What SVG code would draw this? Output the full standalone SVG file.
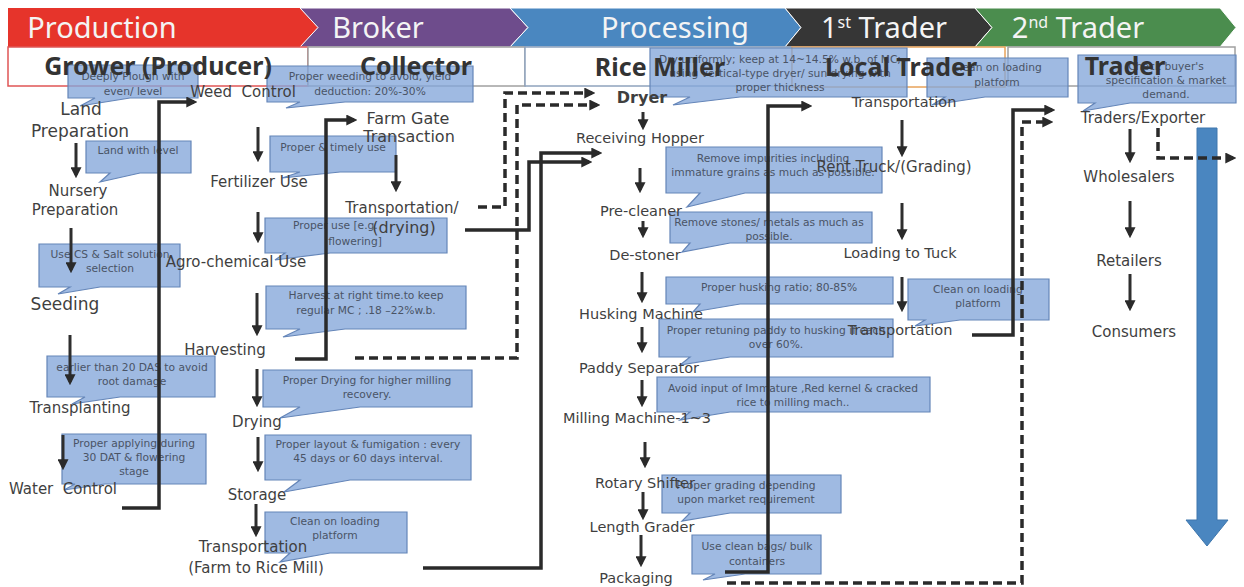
<svg xmlns="http://www.w3.org/2000/svg" width="1244" height="587" viewBox="0 0 1244 587">
  <style>
    .band text { fill: #f4f4f4; font-family: "Noto Sans", "DejaVu Sans", sans-serif; font-size: 29px; text-anchor: middle; }
    .frame rect { fill: #ffffff; stroke-width: 1.5; }
    .role text { fill: #333333; font-family: "Noto Sans", "DejaVu Sans", sans-serif; font-size: 25px; font-weight: bold; text-anchor: middle; }
    .lbl { fill: #3f3f3f; font-family: "DejaVu Sans", Verdana, sans-serif; font-size: 15px; text-anchor: middle; }
    .note path { fill: #84a6da; fill-opacity: 0.78; stroke: #6485b8; stroke-width: 1.2; }
    .note text { fill: #4a5466; font-family: "DejaVu Sans", Verdana, sans-serif; font-size: 10.7px; text-anchor: middle; }
    .step { stroke: #2e2e2e; stroke-width: 3; fill: none; marker-end: url(#head); }
    .link { stroke: #2a2a2a; stroke-width: 3.5; fill: none; marker-end: url(#head); }
    .dash { stroke-dasharray: 9 5; }
  </style>
  <defs>
    <marker id="head" viewBox="0 0 10 10" refX="7" refY="5" markerWidth="11" markerHeight="11" markerUnits="userSpaceOnUse" orient="auto">
      <path d="M0,0 L10,5 L0,10 z" fill="#2a2a2a"/>
    </marker>
  </defs>

  <rect width="1244" height="587" fill="#ffffff"/>

  <!-- stage band -->
  <g id="stages" class="band">
    <polygon points="8,8 300,8 318,27.5 300,47 8,47" fill="#e6342b"/>
    <polygon points="300,8 510,8 528,27.5 510,47 300,47 318,27.5" fill="#6e4c8c" stroke="#ffffff" stroke-width="1"/>
    <polygon points="510,8 785,8 801,27.5 785,47 510,47 528,27.5" fill="#4a87c0" stroke="#ffffff" stroke-width="1"/>
    <polygon points="785,8 975,8 992,27.5 975,47 785,47 801,27.5" fill="#363636" stroke="#ffffff" stroke-width="1"/>
    <polygon points="975,8 1220,8 1236,27.5 1220,47 975,47 992,27.5" fill="#4b8d4e" stroke="#ffffff" stroke-width="1"/>
    <text x="102" y="38">Production</text>
    <text x="378" y="38">Broker</text>
    <text x="675" y="38">Processing</text>
    <text x="884" y="38">1<tspan font-size="16" dy="-10">st</tspan><tspan dy="10"> Trader</tspan></text>
    <text x="1078" y="38">2<tspan font-size="16" dy="-10">nd</tspan><tspan dy="10"> Trader</tspan></text>
  </g>

  <!-- actor row frames -->
  <g id="actor-frames" class="frame">
    <rect x="8" y="47" width="300" height="39" stroke="#e05555"/>
    <rect x="308" y="47" width="217" height="39" stroke="#a0a0a0"/>
    <rect x="525" y="47" width="267" height="39" stroke="#8fa3bd"/>
    <rect x="792" y="47" width="213" height="40" stroke="#e8a35a"/>
    <rect x="1008" y="47" width="227" height="39" stroke="#a0a0a0"/>
  </g>

  <!-- advice call-outs -->
  <g id="notes" class="note">
    <g id="n-plough"><path d="M68,65 H198 V98 H130 L80,106 L95,98 H68 Z"/><text x="133" y="80">Deeply Plough with</text><text x="133" y="95">even/ level</text></g>
    <g id="n-level"><path d="M86,141 H191 V173 H140 L100,182 L110,173 H86 Z"/><text x="138" y="154">Land with level</text></g>
    <g id="n-salt"><path d="M39,244 H180 V287 H100 L58,294 L70,287 H39 Z"/><text x="110" y="258">Use CS &amp; Salt solution</text><text x="110" y="272">selection</text></g>
    <g id="n-das"><path d="M47,356 H215 V397 H120 L72,404 L85,397 H47 Z"/><text x="132" y="371">earlier than 20 DAS to avoid</text><text x="132" y="385">root damage</text></g>
    <g id="n-water"><path d="M62,434 H206 V484 H105 L64,490 L75,484 H62 Z"/><text x="134" y="447">Proper applying during</text><text x="134" y="461">30 DAT &amp; flowering</text><text x="134" y="475">stage</text></g>
    <g id="n-weed"><path d="M267,66 H473 V102 H345 L286,108 L300,102 H267 Z"/><text x="370" y="80">Proper weeding to avoid, yield</text><text x="370" y="95">deduction: 20%-30%</text></g>
    <g id="n-fert"><path d="M270,136 H396 V172 H340 L282,178 L300,172 H270 Z"/><text x="333" y="151">Proper &amp; timely use</text></g>
    <g id="n-agro"><path d="M265,218 H447 V253 H330 L275,260 L285,253 H265 Z"/><text x="293" y="229" style="text-anchor:start">Proper use [e.g.</text><text x="355" y="245">flowering]</text></g>
    <g id="n-harvest"><path d="M266,286 H466 V329 H345 L283,337 L300,329 H266 Z"/><text x="366" y="299">Harvest at right time.to keep</text><text x="366" y="314">regular MC ; .18 –22%w.b.</text></g>
    <g id="n-drying"><path d="M263,370 H472 V407 H360 L280,418 L300,407 H263 Z"/><text x="367" y="384">Proper Drying for higher milling</text><text x="367" y="398">recovery.</text></g>
    <g id="n-storage"><path d="M265,435 H471 V480 H350 L284,492 L300,480 H265 Z"/><text x="368" y="448">Proper layout &amp; fumigation : every</text><text x="368" y="462">45 days or 60 days interval.</text></g>
    <g id="n-load1"><path d="M265,512 H407 V553 H330 L280,562 L290,553 H265 Z"/><text x="335" y="525">Clean on loading</text><text x="335" y="539">platform</text></g>
    <g id="n-dryer"><path d="M650,48 H907 V97 H740 L673,105 L690,97 H650 Z"/><text x="780" y="63" font-size="10.2">Dry uniformly; keep at 14~14.5% w.b. of MC;</text><text x="780" y="77" font-size="10.2">using vertical-type dryer/ sun drying with</text><text x="780" y="91" font-size="10.2">proper thickness</text></g>
    <g id="n-clean"><path d="M666,147 H882 V193 H745 L687,207 L700,193 H666 Z"/><text x="773" y="162">Remove impurities including</text><text x="773" y="176">immature grains as much as possible.</text></g>
    <g id="n-stone"><path d="M670,212 H872 V243 H730 L682,252 L690,243 H670 Z"/><text x="769" y="226">Remove stones/ metals as much as</text><text x="769" y="240">possible.</text></g>
    <g id="n-husk"><path d="M666,277 H893 V304 H740 L693,312 L700,304 H666 Z"/><text x="779" y="291">Proper husking ratio; 80-85%</text></g>
    <g id="n-return"><path d="M659,319 H893 V357 H730 L680,365 L690,357 H659 Z"/><text x="776" y="334">Proper retuning paddy to husking if each</text><text x="776" y="348">over 60%.</text></g>
    <g id="n-mill"><path d="M657,377 H930 V412 H730 L680,420 L690,412 H657 Z"/><text x="793" y="392">Avoid input of Immature ,Red kernel &amp; cracked</text><text x="793" y="406">rice to milling mach..</text></g>
    <g id="n-grade"><path d="M662,475 H841 V513 H730 L682,521 L690,513 H662 Z"/><text x="746" y="489">Proper grading depending</text><text x="746" y="503">upon market requirement</text></g>
    <g id="n-bags"><path d="M692,535 H821 V574 H745 L703,580 L715,574 H692 Z"/><text x="757" y="550">Use clean bags/ bulk</text><text x="757" y="565">containers</text></g>
    <g id="n-load2"><path d="M927,58 H1068 V97 H985 L932,105 L945,97 H927 Z"/><text x="997" y="71">Clean on loading</text><text x="997" y="86">platform</text></g>
    <g id="n-load3"><path d="M908,279 H1049 V320 H960 L915,326 L925,320 H908 Z"/><text x="978" y="293">Clean on loading</text><text x="978" y="307">platform</text></g>
    <g id="n-buyer"><path d="M1078,55 H1236 V103 H1130 L1083,111 L1095,103 H1078 Z"/><text x="1166" y="70">Check buyer's</text><text x="1166" y="84">specification &amp; market</text><text x="1166" y="98">demand.</text></g>
  </g>

  <!-- actor names -->
  <g id="actors" class="role">
    <text x="158" y="75">Grower (Producer)</text>
    <text x="416" y="75">Collector</text>
    <text x="660" y="76">Rice Miller</text>
    <text x="901" y="76">Local Trader</text>
    <text x="1125" y="75">Trader</text>
  </g>

  <!-- grower steps -->
  <g id="grower-steps" class="lbl">
    <text id="land1" x="81" y="115" font-size="17">Land</text>
    <text id="land2" x="80" y="137" font-size="17">Preparation</text>
    <text id="nursery1" x="78" y="196">Nursery</text>
    <text id="nursery2" x="75" y="215">Preparation</text>
    <text id="seeding" x="65" y="310" font-size="17">Seeding</text>
    <text id="transplanting" x="80" y="413">Transplanting</text>
    <text id="water" x="63" y="494" xml:space="preserve">Water  Control</text>
    <text id="weed" x="243" y="97" xml:space="preserve">Weed  Control</text>
    <text id="fertilizer" x="259" y="187">Fertilizer Use</text>
    <text id="agro" x="236" y="267">Agro-chemical Use</text>
    <text id="harvesting" x="225" y="355">Harvesting</text>
    <text id="drying" x="257" y="427">Drying</text>
    <text id="storage" x="257" y="500">Storage</text>
    <text id="transport1" x="253" y="552">Transportation</text>
    <text id="transport1b" x="256" y="573">(Farm to Rice Mill)</text>
  </g>

  <!-- collector steps -->
  <g id="collector-steps" class="lbl">
    <text id="farmgate1" x="408" y="124" font-size="16">Farm Gate</text>
    <text id="farmgate2" x="409" y="142" font-size="16">Transaction</text>
    <text id="transport2" x="402" y="213">Transportation/</text>
    <text id="transport2b" x="404" y="233" font-size="16">(drying)</text>
  </g>

  <!-- rice mill steps -->
  <g id="mill-steps" class="lbl">
    <text id="dryer" x="642" y="103" font-size="16" font-weight="bold">Dryer</text>
    <text id="hopper" x="640" y="143" font-size="14.5">Receiving Hopper</text>
    <text id="precleaner" x="641" y="216" font-size="14.5">Pre-cleaner</text>
    <text id="destoner" x="645" y="260" font-size="14.5">De-stoner</text>
    <text id="husker" x="641" y="319" font-size="14.5">Husking Machine</text>
    <text id="separator" x="639" y="373" font-size="14.5">Paddy Separator</text>
    <text id="miller" x="637" y="423" font-size="14.5">Milling Machine-1~3</text>
    <text id="shifter" x="645" y="488" font-size="14.5">Rotary Shifter</text>
    <text id="grader" x="642" y="532" font-size="14.5">Length Grader</text>
    <text id="packaging" x="636" y="583" font-size="14.5">Packaging</text>
  </g>

  <!-- local trader steps -->
  <g id="local-steps" class="lbl">
    <text id="transport3" x="904" y="107" font-size="14.5">Transportation</text>
    <text id="truck" x="894" y="172">Rent Truck/(Grading)</text>
    <text id="loading" x="900" y="258" font-size="14.5">Loading to Tuck</text>
    <text id="transport4" x="900" y="335" font-size="14.5">Transportation</text>
  </g>

  <!-- trader steps -->
  <g id="trader-steps" class="lbl">
    <text id="exporter" x="1143" y="123">Traders/Exporter</text>
    <text id="wholesalers" x="1129" y="182">Wholesalers</text>
    <text id="retailers" x="1129" y="266">Retailers</text>
    <text id="consumers" x="1134" y="337">Consumers</text>
  </g>

  <!-- market flow arrow -->
  <g id="market-flow">
    <polygon points="1197,128 1217,128 1217,520 1228,520 1207,546 1186,520 1197,520" fill="#4a86c0" stroke="#3f77ad" stroke-width="1"/>
  </g>

  <!-- connectors -->
  <g id="connectors">
    <line class="step" x1="76" y1="143" x2="76" y2="175"/>
    <line class="step" x1="71" y1="228" x2="71" y2="270"/>
    <line class="step" x1="70" y1="335" x2="70" y2="382"/>
    <line class="step" x1="63" y1="435" x2="63" y2="467"/>
    <line class="step" x1="258" y1="127" x2="258" y2="159"/>
    <line class="step" x1="258" y1="212" x2="258" y2="240"/>
    <line class="step" x1="257" y1="293" x2="257" y2="333"/>
    <line class="step" x1="257" y1="369" x2="257" y2="404"/>
    <line class="step" x1="258" y1="437" x2="258" y2="469"/>
    <line class="step" x1="256" y1="504" x2="256" y2="534"/>
    <line class="step" x1="396" y1="155" x2="396" y2="189"/>
    <line class="step" x1="643" y1="112" x2="643" y2="127"/>
    <line class="step" x1="640" y1="168" x2="640" y2="190"/>
    <line class="step" x1="643" y1="221" x2="643" y2="235"/>
    <line class="step" x1="642" y1="272" x2="642" y2="300"/>
    <line class="step" x1="642" y1="327" x2="642" y2="350"/>
    <line class="step" x1="642" y1="380" x2="642" y2="404"/>
    <line class="step" x1="645" y1="442" x2="645" y2="465"/>
    <line class="step" x1="643" y1="492" x2="643" y2="517"/>
    <line class="step" x1="641" y1="535" x2="641" y2="564"/>
    <line class="step" x1="902" y1="120" x2="902" y2="154"/>
    <line class="step" x1="902" y1="203" x2="902" y2="237"/>
    <line class="step" x1="902" y1="277" x2="902" y2="309"/>
    <line class="step" x1="1130" y1="129" x2="1130" y2="160"/>
    <line class="step" x1="1130" y1="201" x2="1130" y2="235"/>
    <line class="step" x1="1130" y1="274" x2="1130" y2="308"/>

    <path class="link" d="M122,508 H159 V102 H194"/>
    <path class="link" d="M295,359 H326 V120 H354"/>
    <path class="link dash" d="M478,207 H505 V93 H592"/>
    <path class="link dash" d="M355,358 H517 V105 H597"/>
    <path class="link" d="M465,230 H529 V162 H589"/>
    <path class="link" d="M423,568 H541 V153 H599"/>
    <path class="link" d="M725,572 H768 V106 H809"/>
    <path class="link dash" d="M727,583 H1022 V122 H1050"/>
    <path class="link" d="M972,335 H1013 V110 H1052"/>
    <path class="link dash" d="M1158,128 V158 H1233"/>
  </g>
</svg>
